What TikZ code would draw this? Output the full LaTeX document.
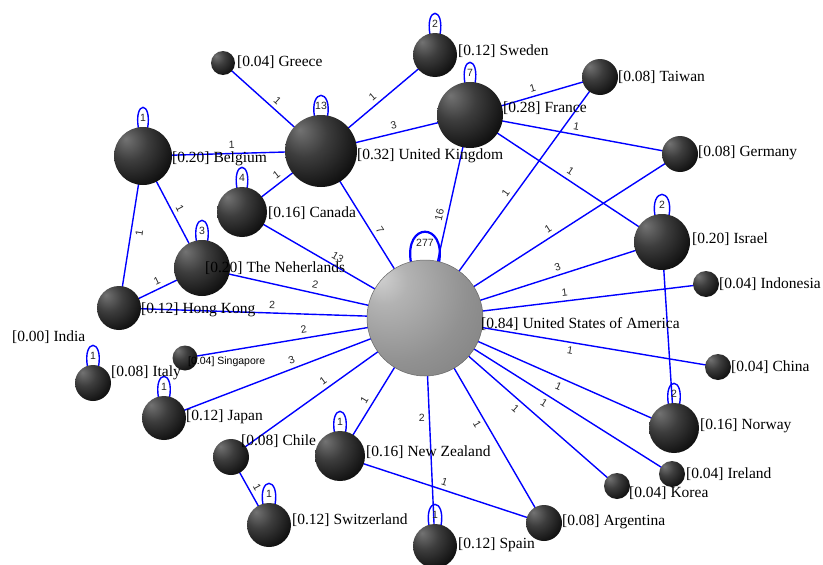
\documentclass[tikz,border=0pt]{standalone}
\usepackage{fontspec}
\setmainfont{Liberation Serif}
\newfontfamily\labelfont{Liberation Sans}
\usetikzlibrary{backgrounds}

\pgfdeclareradialshading{darkball}{\pgfpoint{-15bp}{15bp}}{%
  color(0bp)=(black!55); color(16bp)=(black!76); color(38bp)=(black!96); color(80bp)=(black)}
\pgfdeclareradialshading{greyball}{\pgfpoint{-20bp}{18bp}}{%
  color(0bp)=(black!18); color(10bp)=(black!30); color(30bp)=(black!43); color(55bp)=(black!54); color(80bp)=(black!60)}

\tikzset{
  country/.style={circle, inner sep=0pt, minimum size=2*#1, shading=darkball},
  hub/.style={circle, inner sep=0pt, minimum size=2*#1, shading=greyball, draw=black!60, line width=0.5pt},
  tag/.style={anchor=west, inner sep=0pt, font=\fontsize{15.5}{16}\selectfont},
  link/.style={blue, line width=1.4pt},
  numlab/.style={font=\labelfont\fontsize{10.5}{11}\selectfont, text=black!85, inner sep=4pt},
  elab/.style={numlab, sloped, above},
  selfloop/.style={blue, line width=1.4pt, out=100, in=80, looseness=1, min distance=29pt},
  looplab/.style={numlab, anchor=north, inner sep=0pt, yshift=-6pt}
}

\begin{document}
\begin{tikzpicture}[x=1pt,y=1pt]
 \useasboundingbox (0,0) rectangle (823,-565);

 % countries
 \node[hub=58] (usa) at (425,-318) {};
 \node[country=36] (uk) at (321,-151) {};
 \node[country=33] (fra) at (470,-115) {};
 \node[country=22] (swe) at (435,-55) {};
 \node[country=18] (twn) at (600,-77) {};
 \node[country=18] (ger) at (680,-154) {};
 \node[country=12] (gre) at (223,-63) {};
 \node[country=29] (bel) at (143,-156) {};
 \node[country=25] (can) at (242,-212) {};
 \node[country=28] (ned) at (202,-268) {};
 \node[country=22] (hkg) at (119,-308) {};
 \node[country=12.5] (sgp) at (185,-358) {};
 \node[country=18] (ita) at (93,-383) {};
 \node[country=22] (jpn) at (164,-418) {};
 \node[country=18] (chl) at (231,-457) {};
 \node[country=22] (che) at (269,-525) {};
 \node[country=25] (nzl) at (340,-456) {};
 \node[country=22] (esp) at (435,-546) {};
 \node[country=18] (arg) at (544,-523) {};
 \node[country=13] (kor) at (617,-486) {};
 \node[country=13] (irl) at (672,-474) {};
 \node[country=25] (nor) at (674,-428) {};
 \node[country=13] (chn) at (718,-367) {};
 \node[country=13] (idn) at (706,-284) {};
 \node[country=28] (isr) at (662,-242) {};

 \begin{scope}[on background layer]
 \draw[link] (uk.center) -- node[elab]{1} (gre.center);
 \draw[link] (uk.center) -- node[elab]{1} (swe.center);
 \draw[link] (uk.center) -- node[elab]{3} (fra.center);
 \draw[link] (bel.center) -- node[elab]{1} (uk.center);
 \draw[link] (can.center) -- node[elab]{1} (uk.center);
 \draw[link] (uk.center) -- node[elab]{7} (usa.center);
 \draw[link] (fra.center) -- node[elab]{1} (twn.center);
 \draw[link] (fra.center) -- node[elab]{1} (ger.center);
 \draw[link] (fra.center) -- node[elab]{1} (isr.center);
 \draw[link] (usa.center) -- node[elab]{16} (fra.center);
 \draw[link] (usa.center) -- node[elab]{1} (twn.center);
 \draw[link] (usa.center) -- node[elab]{1} (ger.center);
 \draw[link] (usa.center) -- node[elab,pos=0.57]{3} (isr.center);
 \draw[link] (usa.center) -- node[elab]{1} (idn.center);
 \draw[link] (usa.center) -- node[elab,below]{1} (chn.center);
 \draw[link] (usa.center) -- node[elab,below,pos=0.55]{1} (nor.center);
 \draw[link] (usa.center) -- node[elab,below]{1} (irl.center);
 \draw[link] (usa.center) -- node[elab,below]{1} (kor.center);
 \draw[link] (usa.center) -- node[elab,below]{1} (arg.center);
 \draw[link] (usa.center) -- node[numlab,left,pos=0.44]{2} (esp.center);
 \draw[link] (nzl.center) -- node[elab,pos=0.37]{1} (usa.center);
 \draw[link] (chl.center) -- node[elab]{1} (usa.center);
 \draw[link] (jpn.center) -- node[elab]{3} (usa.center);
 \draw[link] (sgp.center) -- node[elab]{2} (usa.center);
 \draw[link] (hkg.center) -- node[elab]{2} (usa.center);
 \draw[link] (ned.center) -- node[elab]{2} (usa.center);
 \draw[link] (can.center) -- node[elab]{13} (usa.center);
 \draw[link] (hkg.center) -- node[elab]{1} (ned.center);
 \draw[link] (bel.center) -- node[elab,below]{1} (hkg.center);
 \draw[link] (bel.center) -- node[elab]{1} (ned.center);
 \draw[link] (chl.center) -- node[elab]{1} (che.center);
 \draw[link] (nzl.center) -- node[elab]{1} (arg.center);
 \draw[link] (isr.center) -- (nor.center);

 \draw[selfloop, line width=2.2pt, min distance=42pt] ([xshift=-14pt,yshift=-3pt]usa.north) to node[looplab]{277} ([xshift=14pt,yshift=-3pt]usa.north);
 \draw[selfloop] ([xshift=-6.5pt,yshift=-2pt]uk.north) to node[looplab]{13} ([xshift=6.5pt,yshift=-2pt]uk.north);
 \draw[selfloop] ([xshift=-5pt,yshift=-2pt]fra.north) to node[looplab]{7} ([xshift=5pt,yshift=-2pt]fra.north);
 \draw[selfloop] ([xshift=-5pt,yshift=-2pt]swe.north) to node[looplab]{2} ([xshift=5pt,yshift=-2pt]swe.north);
 \draw[selfloop] ([xshift=-4.5pt,yshift=-2pt]bel.north) to node[looplab]{1} ([xshift=4.5pt,yshift=-2pt]bel.north);
 \draw[selfloop] ([xshift=-5pt,yshift=-2pt]can.north) to node[looplab]{4} ([xshift=5pt,yshift=-2pt]can.north);
 \draw[selfloop] ([xshift=-5.5pt,yshift=-2pt]ned.north) to node[looplab]{3} ([xshift=5.5pt,yshift=-2pt]ned.north);
 \draw[selfloop] ([xshift=-7pt,yshift=-2pt]isr.north) to node[looplab]{2} ([xshift=7pt,yshift=-2pt]isr.north);
 \draw[selfloop] ([xshift=-5.5pt,yshift=-2pt]nor.north) to node[looplab]{2} ([xshift=5.5pt,yshift=-2pt]nor.north);
 \draw[selfloop] ([xshift=-5.5pt,yshift=-2pt]ita.north) to node[looplab]{1} ([xshift=5.5pt,yshift=-2pt]ita.north);
 \draw[selfloop] ([xshift=-5.5pt,yshift=-2pt]jpn.north) to node[looplab]{1} ([xshift=5.5pt,yshift=-2pt]jpn.north);
 \draw[selfloop] ([xshift=-5.5pt,yshift=-2pt]nzl.north) to node[looplab]{1} ([xshift=5.5pt,yshift=-2pt]nzl.north);
 \draw[selfloop] ([xshift=-6pt,yshift=-2pt]che.north) to node[looplab]{1} ([xshift=6pt,yshift=-2pt]che.north);
 \draw[selfloop] ([xshift=-6pt,yshift=-2pt]esp.north) to node[looplab]{1} ([xshift=6pt,yshift=-2pt]esp.north);
 \end{scope}

 % names
 \node[tag] (usa-t) at (481,-324) {[0.84] United States of America};
 \node[tag] (uk-t) at (357,-156) {[0.32] United Kingdom};
 \node[tag] (fra-t) at (503,-108) {[0.28] France};
 \node[tag] (swe-t) at (458,-51) {[0.12] Sweden};
 \node[tag] (twn-t) at (618,-77) {[0.08] Taiwan};
 \node[tag] (ger-t) at (698,-153) {[0.08] Germany};
 \node[tag] (gre-t) at (237,-62) {[0.04] Greece};
 \node[tag] (bel-t) at (172,-159) {[0.20] Belgium};
 \node[tag] (can-t) at (268,-213) {[0.16] Canada};
 \node[tag] (ned-t) at (205,-268) {[0.20] The Neherlands};
 \node[tag] (hkg-t) at (141,-310) {[0.12] Hong Kong};
 \node[tag, font=\labelfont\fontsize{10.5}{11}\selectfont] (sgp-t) at (188,-362) {[0.04] Singapore};
 \node[tag] (ind-t) at (12,-337) {[0.00] India};
 \node[tag] (ita-t) at (111,-373) {[0.08] Italy};
 \node[tag] (jpn-t) at (186,-417) {[0.12] Japan};
 \node[tag] (chl-t) at (241,-441) {[0.08] Chile};
 \node[tag] (che-t) at (292,-520) {[0.12] Switzerland};
 \node[tag] (nzl-t) at (366,-452) {[0.16] New Zealand};
 \node[tag] (esp-t) at (458,-545) {[0.12] Spain};
 \node[tag] (arg-t) at (562,-522) {[0.08] Argentina};
 \node[tag] (kor-t) at (629,-493) {[0.04] Korea};
 \node[tag] (irl-t) at (686,-474) {[0.04] Ireland};
 \node[tag] (nor-t) at (700,-426) {[0.16] Norway};
 \node[tag] (chn-t) at (731,-367) {[0.04] China};
 \node[tag] (idn-t) at (719,-284) {[0.04] Indonesia};
 \node[tag] (isr-t) at (692,-239) {[0.20] Israel};
\end{tikzpicture}
\end{document}
